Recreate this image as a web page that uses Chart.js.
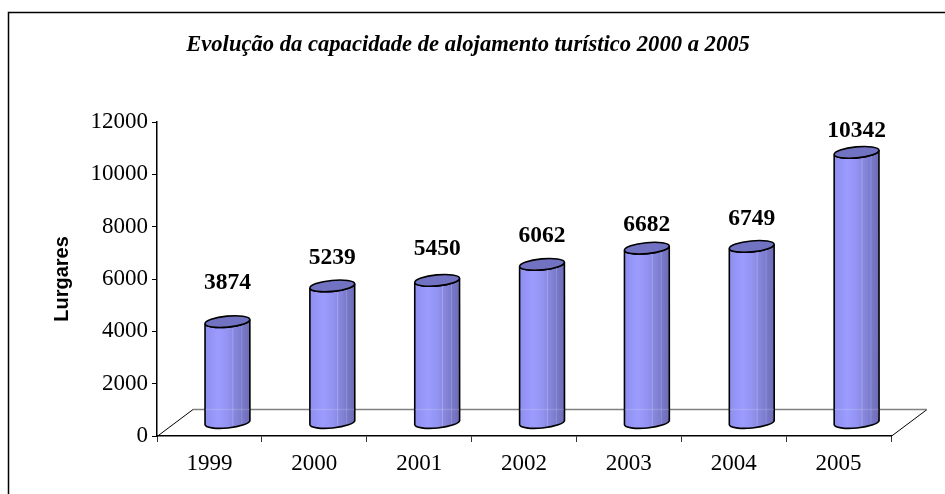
<!DOCTYPE html>
<html>
<head>
<meta charset="utf-8">
<style>
  html, body { margin: 0; padding: 0; background: #fff; overflow: hidden; }
  #wrap { width: 945px; height: 494px; }
</style>
</head>
<body>
<div id="wrap"><canvas id="myChart" width="945" height="494"></canvas></div>
<script src="https://cdn.jsdelivr.net/npm/chart.js@4/dist/chart.umd.min.js"></script>
<script>
const anos = ["1999", "2000", "2001", "2002", "2003", "2004", "2005"];
const lugares = [3874, 5239, 5450, 6062, 6682, 6749, 10342];
const titulo = "Evolução da capacidade de alojamento turístico 2000 a 2005";
const tituloEixo = "Lurgares";

// the labels were moved by hand in the original, so each has its own gap over the bar
const labelGap = [33, 22, 25, 22, 17, 21, 15];

// fake 3D: floor depth and where the bars stand on it
const depthX = 36, depthY = 27;
const barDx = 18, barDy = 13;
const tilt = -5.5 * Math.PI / 180;
const ry = 5.5;

function floorPlugin(chart) {
  const { ctx, chartArea: a } = chart;
  ctx.save();
  ctx.lineWidth = 1;
  ctx.strokeStyle = "#000";
  ctx.beginPath();
  ctx.moveTo(a.left, a.bottom + .5);
  ctx.lineTo(a.left + depthX, a.bottom - depthY + .5);
  ctx.moveTo(a.right, a.bottom + .5);
  ctx.lineTo(a.right + depthX, a.bottom - depthY + .5);
  ctx.stroke();
  ctx.strokeStyle = "#808080";
  ctx.lineWidth = 1.5;
  ctx.beginPath();
  ctx.moveTo(a.left + depthX, a.bottom - depthY + .5);
  ctx.lineTo(a.right + depthX, a.bottom - depthY + .5);
  ctx.stroke();
  ctx.restore();
}

function drawCylinder(ctx, bar) {
  const cx = bar.x + barDx, rx = bar.width / 2;
  const top = bar.y - barDy, bot = bar.base - barDy;
  const sl = Math.sin(tilt) * rx;

  const g = ctx.createLinearGradient(cx - rx, 0, cx + rx, 0);
  g.addColorStop(0, "#8e8eee");
  g.addColorStop(.12, "#9494f6");
  g.addColorStop(.3, "#9c9cff");
  g.addColorStop(.5, "#9393f2");
  g.addColorStop(.6, "#8c8ce6");
  g.addColorStop(.62, "#a4a4f0");
  g.addColorStop(.64, "#8888de");
  g.addColorStop(.8, "#7c7cce");
  g.addColorStop(.82, "#9090dc");
  g.addColorStop(.84, "#7878c6");
  g.addColorStop(1, "#6c6cb8");

  ctx.beginPath();
  ctx.ellipse(cx, top, rx, ry, tilt, Math.PI, 0, true);
  ctx.lineTo(cx + rx, bot + sl);
  ctx.ellipse(cx, bot, rx, ry, tilt, 0, Math.PI, false);
  ctx.closePath();
  ctx.fillStyle = g;
  ctx.fill();
  ctx.strokeStyle = "#000";
  ctx.lineWidth = 1.6;
  ctx.stroke();

  ctx.beginPath();
  ctx.ellipse(cx, top, rx, ry, tilt, 0, Math.PI * 2);
  ctx.fillStyle = "#7272c2";
  ctx.fill();
  ctx.stroke();
}

const cylinders = {
  id: "cylinders",
  beforeDatasetsDraw: floorPlugin,
  afterDatasetsDraw(chart) {
    const { ctx, chartArea: a } = chart;
    const meta = chart.getDatasetMeta(0);
    ctx.save();
    meta.data.forEach((bar, i) => {
      drawCylinder(ctx, bar);
      // floor line shows faintly through the bars
      ctx.strokeStyle = "rgba(255,255,255,.14)";
      ctx.lineWidth = 1.5;
      ctx.beginPath();
      ctx.moveTo(bar.x + barDx - bar.width / 2, a.bottom - depthY + .5);
      ctx.lineTo(bar.x + barDx + bar.width / 2, a.bottom - depthY + .5);
      ctx.stroke();

      ctx.fillStyle = "#000";
      ctx.font = 'bold 23.5px "Liberation Serif"';
      ctx.textAlign = "center";
      ctx.textBaseline = "alphabetic";
      ctx.fillText(String(lugares[i]), bar.x + barDx, bar.y - barDy - labelGap[i]);
    });

    ctx.font = 'italic bold 22.6px "Liberation Serif"';
    ctx.fillText(titulo, 468, 51);

    // only the left and top of the outer frame are in the picture
    ctx.strokeStyle = "#000";
    ctx.lineWidth = 1.5;
    ctx.beginPath();
    ctx.moveTo(8.5, chart.height);
    ctx.lineTo(8.5, 12.5);
    ctx.lineTo(chart.width, 12.5);
    ctx.stroke();
    ctx.restore();
  }
};

new Chart(document.getElementById("myChart"), {
  type: "bar",
  data: {
    labels: anos,
    datasets: [{
      label: tituloEixo,
      data: lugares,
      backgroundColor: "rgba(0,0,0,0)",
      borderWidth: 0,
      barThickness: 45
    }]
  },
  options: {
    responsive: false,
    animation: false,
    layout: { padding: { top: 122, right: 54, left: 0, bottom: 0 } },
    plugins: { legend: { display: false }, title: { display: false }, tooltip: { enabled: false } },
    scales: {
      x: {
        afterFit(s) { s.height = 58; },
        grid: { drawOnChartArea: false, tickLength: 6, tickColor: "#333" },
        border: { color: "#000", width: 1.5 },
        ticks: { color: "#000", padding: 8, maxRotation: 0, font: { family: "Liberation Serif", size: 23 } }
      },
      y: {
        min: 0,
        max: 12000,
        afterFit(s) { s.width = 157; },
        grid: { drawOnChartArea: false, tickLength: 5, tickColor: "#000" },
        border: { color: "#000", width: 1.5 },
        ticks: {
          stepSize: 2000,
          color: "#000",
          padding: 4,
          font: { family: "Liberation Serif", size: 23 },
          callback: v => String(v)
        },
        title: {
          display: true,
          text: tituloEixo,
          color: "#000",
          padding: { top: 50, bottom: 0 },
          font: { family: "Liberation Sans", size: 20, weight: "bold" }
        }
      }
    }
  },
  plugins: [cylinders]
});
</script>
</body>
</html>
